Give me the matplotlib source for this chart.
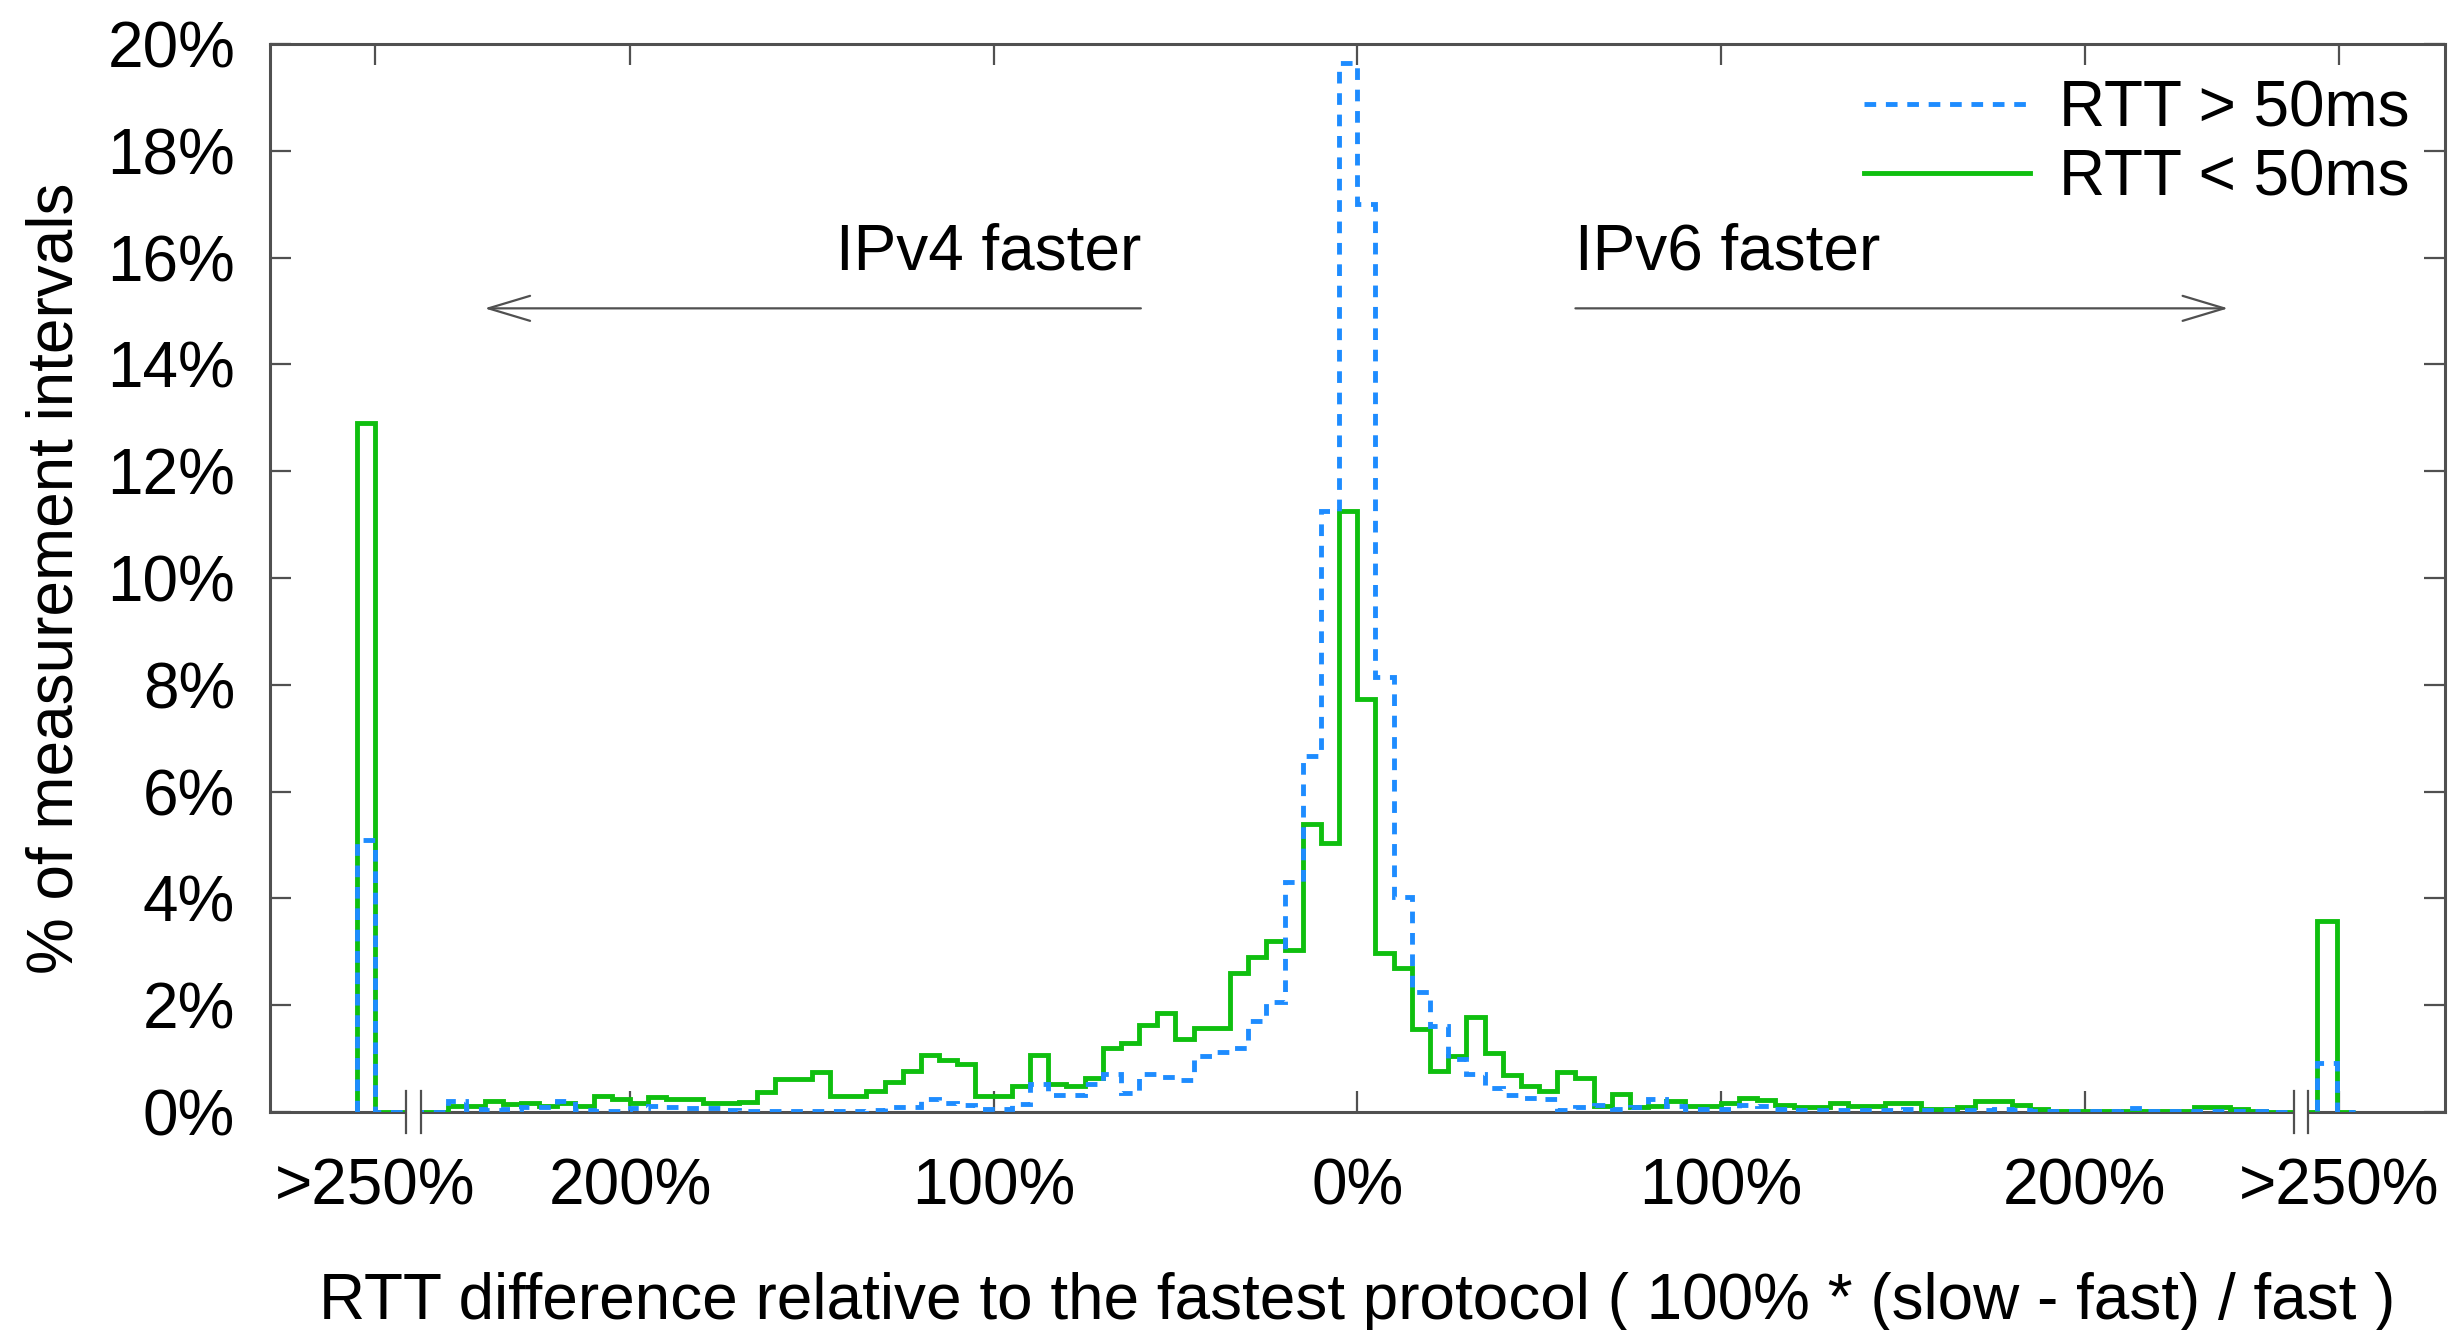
import numpy as np
import matplotlib
matplotlib.use('Agg')
import matplotlib.pyplot as plt
from matplotlib.patches import Rectangle

plt.rcParams['font.family'] = ['Liberation Sans', 'DejaVu Sans']

# histogram bins: 5% wide, from -250% (IPv4 faster) to +250% (IPv6 faster)
bin_edges = np.arange(-250, 251, 5)

# RTT < 50ms (green, solid), % of measurement intervals per bin
rtt_lt50 = [
    0.12, 0.12, 0.20, 0.15, 0.16, 0.12, 0.16, 0.12, 0.30, 0.24,   # -250 .. -205
    0.17, 0.29, 0.24, 0.25, 0.16, 0.16, 0.19, 0.37, 0.62, 0.62,   # -200 .. -155
    0.75, 0.30, 0.30, 0.39, 0.56, 0.77, 1.06, 0.98, 0.89, 0.30,   # -150 .. -105
    0.30, 0.48, 1.06, 0.52, 0.48, 0.64, 1.20, 1.30, 1.63, 1.86,   # -100 .. -55
    1.36, 1.57, 1.57, 2.60, 2.90, 3.20, 3.03, 5.40, 5.03, 11.26,  # -50 .. -5
    7.74, 2.97, 2.70, 1.55, 0.77, 1.05, 1.77, 1.11, 0.69, 0.49,   # 0 .. 45
    0.40, 0.75, 0.64, 0.12, 0.33, 0.10, 0.12, 0.20, 0.12, 0.12,   # 50 .. 95
    0.17, 0.27, 0.22, 0.14, 0.10, 0.10, 0.16, 0.12, 0.12, 0.16,   # 100 .. 145
    0.16, 0.06, 0.06, 0.10, 0.20, 0.20, 0.14, 0.06, 0.02, 0.02,   # 150 .. 195
    0.02, 0.02, 0.02, 0.02, 0.02, 0.02, 0.10, 0.10, 0.05, 0.02,   # 200 .. 245
]

# RTT > 50ms (blue, dashed)
rtt_gt50 = [
    0.20, 0.05, 0.04, 0.05, 0.10, 0.10, 0.20, 0.03, 0.02, 0.02,
    0.08, 0.12, 0.10, 0.08, 0.08, 0.03, 0.02, 0.02, 0.02, 0.02,
    0.02, 0.02, 0.02, 0.03, 0.10, 0.10, 0.25, 0.16, 0.14, 0.06,
    0.06, 0.15, 0.52, 0.31, 0.31, 0.52, 0.71, 0.35, 0.71, 0.65,
    0.60, 1.04, 1.12, 1.19, 1.70, 2.06, 4.30, 6.67, 11.26, 19.65,
    17.00, 8.15, 4.02, 2.24, 1.62, 0.99, 0.71, 0.45, 0.31, 0.27,
    0.25, 0.03, 0.10, 0.14, 0.05, 0.10, 0.25, 0.12, 0.05, 0.05,
    0.05, 0.14, 0.12, 0.05, 0.03, 0.03, 0.03, 0.03, 0.03, 0.03,
    0.05, 0.03, 0.03, 0.03, 0.03, 0.06, 0.03, 0.02, 0.02, 0.02,
    0.02, 0.02, 0.08, 0.02, 0.02, 0.02, 0.02, 0.02, 0.02, 0.02,
]

# overflow bins (> 250%) on each side
over_left = {'lt50': 12.9, 'gt50': 5.1}
over_right = {'lt50': 3.58, 'gt50': 0.91}
over_left_bin = (-275, -270)
over_right_bin = (264, 269.5, 274.5)

x_ticks = [-270, -200, -100, 0, 100, 200, 270]
x_ticklabels = ['>250%', '200%', '100%', '0%', '100%', '200%', '>250%']
y_ticks = np.arange(0, 21, 2)

blue = '#1e8cff'
green = '#0fbf0f'
axis_gray = '#505050'
fs = 46
line_w = 3.5
dash = (0, (2.4, 2.0))


def full_series(main, left, right):
    edges = np.concatenate([[over_left_bin[0], over_left_bin[1]], bin_edges, over_right_bin])
    vals = np.concatenate([[left, 0], main, [0, right, 0]])
    return vals, edges


fig = plt.figure(figsize=(24.61, 13.30), dpi=100)
ax = fig.add_axes([0.1097, 0.1639, 0.8836, 0.8030])

v, e = full_series(rtt_lt50, over_left['lt50'], over_right['lt50'])
ax.stairs(v, e, color=green, lw=line_w, zorder=3)
v, e = full_series(rtt_gt50, over_left['gt50'], over_right['gt50'])
ax.stairs(v, e, color=blue, lw=line_w, ls=dash, zorder=3.5)

ax.set_xlim(-299, 299)
ax.set_ylim(0, 20)
ax.set_xticks(x_ticks)
ax.set_xticklabels(x_ticklabels)
ax.set_yticks(y_ticks)
ax.set_yticklabels([f'{t}%' for t in y_ticks])
ax.tick_params(direction='in', length=15, width=1.6, color=axis_gray,
               labelsize=fs, top=True, right=True)
ax.tick_params(axis='x', pad=33)
ax.tick_params(axis='y', pad=25)
for s in ax.spines.values():
    s.set_color(axis_gray)
    s.set_linewidth(2.2)

ax.set_xlabel('RTT difference relative to the fastest protocol ( 100% * (slow - fast) / fast )',
              fontsize=fs, labelpad=39)
ax.set_ylabel('% of measurement intervals', fontsize=fs, labelpad=16)

# axis break marks
for xb in (-259.5, 259.5):
    ax.add_patch(Rectangle((xb - 2, -0.2), 4, 0.4, facecolor='white', edgecolor='none',
                           clip_on=False, zorder=5))
    for dx in (-2, 2):
        ax.plot([xb + dx, xb + dx], [-0.4, 0.4], color=axis_gray, lw=1.6,
                clip_on=False, zorder=6)

# direction annotations
arrow = dict(arrowstyle='->,head_length=3.0,head_width=0.9', color=axis_gray,
             lw=1.6, mutation_scale=10, shrinkA=0, shrinkB=0)
ax.annotate('', xy=(-240, 15.05), xytext=(-59.5, 15.05), arrowprops=arrow)
ax.annotate('', xy=(239.5, 15.05), xytext=(60, 15.05), arrowprops=arrow)
ax.text(-59.5, 16.1, 'IPv4 faster', fontsize=fs, ha='right', va='center')
ax.text(60, 16.1, 'IPv6 faster', fontsize=fs, ha='left', va='center')

# legend
handles = [plt.Line2D([], [], color=blue, lw=line_w, ls=dash),
           plt.Line2D([], [], color=green, lw=line_w)]
ax.legend(handles, ['RTT > 50ms', 'RTT < 50ms'], loc='upper right', fontsize=fs,
          frameon=False, handlelength=2.6, handletextpad=0.45, labelspacing=0.15,
          borderaxespad=0.15)

fig.savefig('out.png', dpi=100)
